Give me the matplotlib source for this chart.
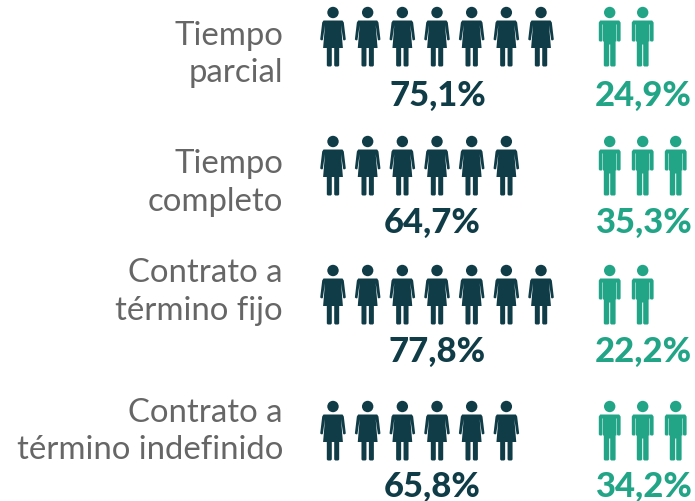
import matplotlib
matplotlib.use('Agg')
import matplotlib.pyplot as plt
from matplotlib.path import Path
from matplotlib.patches import PathPatch
from matplotlib.transforms import Affine2D

plt.rcParams['font.family'] = ['Lato', 'DejaVu Sans']

labels = ['Tiempo\nparcial', 'Tiempo\ncompleto', 'Contrato a\ntérmino fijo', 'Contrato a\ntérmino indefinido']
women_pct = ['75,1%', '64,7%', '77,8%', '65,8%']
men_pct = ['24,9%', '35,3%', '22,2%', '34,2%']
women_icons = [7, 6, 7, 6]
men_icons = [2, 3, 2, 3]

dark = '#0f3c47'
teal = '#22a587'
grey = '#666666'

# y of the head centre for each row, pixels from top
head_y = [13.5, 142.5, 271.5, 407.5]
label_y = [54.5, 183, 292, 431.5]
pct_y = [95.5, 222.5, 351.5, 486.5]
pct_x = [437.5, 432.5, 437.5, 432.5]


def mirrored(half):
    return [(-x, y) for x, y in half] + [(x, y) for x, y in reversed(half)]


def icon(half):
    # half outline runs up the left side order, head is added as a circle
    body = Path(mirrored(half) + [(-half[0][0], half[0][1])], closed=False)
    head = Path.circle((0, 0), 5.7)
    return Path.make_compound_path(head, body)


woman_half = [(0, 35.5), (1.2, 35.5), (1.2, 53), (2.2, 54), (5.2, 54), (6.2, 53), (6.2, 35.5),
              (9.9, 35.5), (8, 12.5), (10.2, 27.6), (11.5, 27.9), (12.8, 27), (10.8, 10),
              (9.5, 8), (0, 8)]
man_half = [(0, 32), (0.5, 32), (0.5, 53), (1.5, 54), (5, 54), (5.9, 53), (5.9, 29), (6.7, 29),
            (6.7, 12), (7.2, 12), (7.2, 28), (8, 29), (10, 29), (10.9, 28), (10.9, 10),
            (9.5, 8), (0, 8)]
woman = icon(woman_half)
man = icon(man_half)

fig = plt.figure(figsize=(6.95, 5.02), dpi=100)
ax = fig.add_axes([0, 0, 1, 1])
ax.set_xlim(0, 695)
ax.set_ylim(502, 0)
ax.axis('off')


def draw_row(shape, n, x0, step, y, color):
    for i in range(n):
        tr = Affine2D().translate(x0 + i * step, y) + ax.transData
        ax.add_patch(PathPatch(shape, facecolor=color, edgecolor='none', transform=tr))


for r in range(4):
    draw_row(woman, women_icons[r], 333, 34.67, head_y[r], dark)
    draw_row(man, men_icons[r], 609.7, 33, head_y[r], teal)
    ax.text(pct_x[r], pct_y[r], women_pct[r], color=dark, fontsize=24.8, fontweight='black',
            ha='center', va='center')
    ax.text(643, pct_y[r], men_pct[r], color=teal, fontsize=24.8, fontweight='black',
            ha='center', va='center')
    ax.text(283, label_y[r], labels[r], color=grey, fontsize=23.7, ha='right', va='center',
            linespacing=1.32)

fig.savefig('out.png', dpi=100)
